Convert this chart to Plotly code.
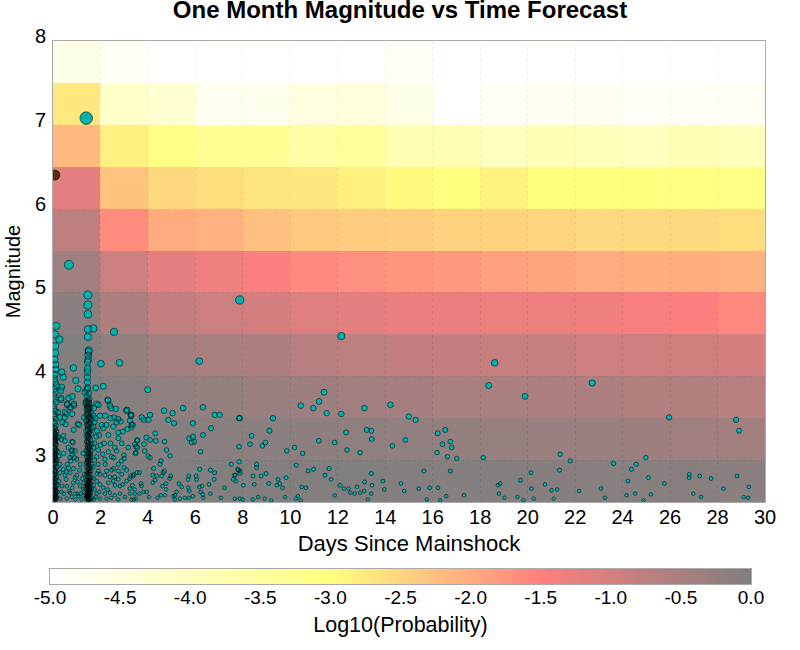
import plotly.graph_objects as go

title_text = "One Month Magnitude vs Time Forecast"
day_bins = [1, 3, 5, 7, 9, 11, 13, 15, 17, 19, 21, 23, 25, 27, 29]
mag_bins = [2.75, 3.25, 3.75, 4.25, 4.75, 5.25, 5.75, 6.25, 6.75, 7.25, 7.75]
row_275 = [0, 0, -.02, -.03, -.04, -.05, -.06, -.07, -.08, -.08, -.09, -.1, -.1, -.12, -.14]
row_325 = [0, -.03, -.08, -.12, -.15, -.17, -.2, -.22, -.25, -.27, -.3, -.32, -.35, -.37, -.4]
row_375 = [-.02, -.1, -.2, -.25, -.3, -.35, -.4, -.45, -.5, -.5, -.55, -.55, -.6, -.6, -.65]
row_425 = [-.05, -.25, -.4, -.5, -.55, -.65, -.7, -.8, -.8, -.85, -.85, -.9, -.92, -.95, -1.0]
row_475 = [-.15, -.55, -.8, -.9, -1.0, -1.1, -1.17, -1.25, -1.25, -1.3, -1.3, -1.35, -1.42, -1.45, -1.6]
row_525 = [-.37, -.9, -1.2, -1.35, -1.45, -1.6, -1.7, -1.75, -1.8, -1.9, -1.95, -2.0, -2.05, -2.05, -2.1]
row_575 = [-.73, -1.65, -2.0, -2.1, -2.25, -2.35, -2.4, -2.42, -2.47, -2.47, -2.5, -2.55, -2.55, -2.55, -2.6]
row_625 = [-1.2, -2.3, -2.53, -2.6, -2.7, -2.73, -2.83, -2.95, -3.0, -2.85, -3.0, -3.0, -3.0, -3.05, -3.1]
row_675 = [-2.17, -2.83, -3.1, -3.35, -3.35, -3.6, -3.45, -3.8, -3.8, -4.0, -3.85, -3.95, -4.0, -3.85, -3.9]
row_725 = [-2.73, -4.14, -4.3, -4.76, -4.72, -4.5, -4.45, -4.6, -5.0, -4.85, -4.8, -4.75, -4.9, -4.9, -4.85]
row_775 = [-4.6, -4.85, -5, -4.95, -4.95, -5, -5, -4.9, -5, -5, -4.95, -5, -5, -5, -5]
z_rows = [row_275, row_325, row_375, row_425, row_475, row_525, row_575, row_625, row_675, row_725, row_775]

colorbar_values = [-5.0, -4.5, -4.0, -3.5, -3.0, -2.5, -2.0, -1.5, -1.0, -0.5, 0.0]
colorbar_labels = ["-5.0", "-4.5", "-4.0", "-3.5", "-3.0", "-2.5", "-2.0", "-1.5", "-1.0", "-0.5", "0.0"]

mainshock_day = [0.08]
mainshock_mag = [6.4]

upper_events = [(1.4,7.08),(.67,5.33),(1.47,4.97),(1.47,4.85),(1.47,4.74),(1.47,4.56),(1.7,4.57),(1.47,4.47),(2.57,4.53),
 (7.87,4.91),(12.15,4.48),(18.61,4.16),(18.36,3.89),(11.42,3.81),(11.21,3.7),(10.44,3.65),(10.97,3.62),(11.53,3.56),(12.15,3.55),
 (13.12,3.62),(14.22,3.66),(14.99,3.52),(15.28,3.48),(7.87,3.5),(9.27,3.5),(9.12,3.35),(8.37,3.29),(19.89,3.76),(22.72,3.92),
 (25.96,3.51),(28.78,3.48),(28.91,3.35),(2.02,4.15),(2.8,4.16),(6.16,4.18),(.86,4.10),(.96,3.95),(1.05,3.85),(.37,4.05),(.43,3.99),
 (.37,3.87),(.34,3.74),(.33,3.83),(2.12,3.88),(1.8,3.86),(1.35,3.81),(3.99,3.84),(2.3,3.72),(.81,3.76),(.66,3.74),(.6,3.66),(.88,3.65),
 (.72,3.63),(1.38,3.68),(1.91,3.66),(2.4,3.65),(2.44,3.62),(2.65,3.61),(3.12,3.6),(3.27,3.54),(3.74,3.51),(3.83,3.48),(4.02,3.48),(4.09,3.54),
 (4.68,3.59),(4.86,3.48),(5.04,3.56),(5.1,3.44),(5.48,3.62),(5.89,3.44),(6.32,3.63),(6.66,3.38),(6.81,3.54),(7.02,3.54),(7.84,3.5)]

column_zero = [(.13,4.6),(.08,4.5),(.27,4.44),(.1,4.36),(.1,4.28),(.08,4.2),(.11,4.14),(.12,4.08),(.08,4.02),(.06,3.97),(.1,3.93),(.14,3.89),
 (.05,3.85),(.1,3.81),(.04,3.77),(.08,3.73),(.12,3.69),(.03,3.65),(.06,3.61),(.1,3.58),(.04,3.55),(.07,3.52),(.12,3.49),(.03,3.46),(.08,3.44),
 (.12,3.41),(.05,3.39),(.09,3.37),(.03,3.35),(.14,3.34),(.07,3.32),(.11,3.3),(.04,3.29),(.08,3.27),(.13,3.26),(.06,3.24),(.1,3.23),(.03,3.21),
 (.07,3.2),(.12,3.18),(.05,3.16),(.09,3.14),(.14,3.12),(.04,3.1),(.08,3.09),(.11,3.07),(.06,3.05),(.1,3.04),(.03,3.02),(.13,3.01),(.07,2.99),
 (.11,2.97),(.05,2.95),(.09,2.93),(.14,2.91),(.04,2.9),(.08,2.88),(.12,2.86),(.06,2.84),(.1,2.83),(.03,2.81),(.13,2.79),(.07,2.78),(.11,2.76),
 (.05,2.74),(.09,2.73),(.15,2.71),(.04,2.7),(.08,2.68),(.12,2.67),(.06,2.65),(.1,2.64),(.03,2.63),(.14,2.62),(.07,2.6),(.11,2.59),(.05,2.58),
 (.09,2.57),(.13,2.56),(.04,2.55),(.08,2.54),(.12,2.53),(.06,2.52),(.1,2.51),(.16,2.55),(.18,2.62),(.2,2.7),(.17,2.8),(.19,2.92),(.16,3.0),(.2,3.1),
 (.06,3.33),(.1,3.31),(.05,3.28),(.09,3.25),(.07,3.22),(.11,3.19),(.06,3.13),(.09,3.11),(.05,3.08),(.1,3.06),(.07,3.03),(.12,3.0),(.05,2.96),(.09,2.87),
 (.06,2.82),(.1,2.77),(.07,2.72),(.05,2.69),(.09,2.66),(.12,2.61),(.06,2.59),(.1,2.56),(.07,2.53),(.13,2.64),(.15,2.57),(.04,2.75)]

column_one = [(1.5,4.31),(1.5,4.29),(1.48,4.25),(1.48,4.2),(1.46,4.17),(1.46,4.09),(1.45,4.05),(1.45,3.99),(1.45,3.93),(1.46,3.86),(1.42,3.84),
 (1.5,3.8),(1.44,3.76),(1.52,3.73),(1.4,3.7),(1.46,3.69),(1.52,3.67),(1.44,3.65),(1.56,3.63),(1.42,3.61),(1.5,3.59),(1.46,3.57),(1.6,3.56),
 (1.42,3.54),(1.52,3.52),(1.46,3.5),(1.6,3.49),(1.4,3.47),(1.5,3.45),(1.56,3.44),(1.44,3.42),(1.52,3.4),(1.62,3.38),(1.46,3.37),(1.4,3.35),
 (1.54,3.34),(1.48,3.32),(1.6,3.31),(1.42,3.29),(1.52,3.27),(1.46,3.26),(1.58,3.24),(1.42,3.22),(1.5,3.21),(1.64,3.19),(1.44,3.17),(1.54,3.16),
 (1.48,3.14),(1.6,3.12),(1.4,3.11),(1.52,3.09),(1.46,3.07),(1.58,3.05),(1.42,3.04),(1.5,3.02),(1.56,3.0),(1.44,2.99),(1.52,2.97),(1.62,2.95),
 (1.46,2.94),(1.4,2.92),(1.54,2.9),(1.48,2.89),(1.6,2.87),(1.42,2.86),(1.5,2.84),(1.56,2.83),(1.44,2.81),(1.52,2.8),(1.64,2.79),(1.46,2.77),
 (1.4,2.76),(1.54,2.75),(1.48,2.74),(1.6,2.72),(1.42,2.71),(1.5,2.7),(1.56,2.69),(1.44,2.68),(1.52,2.67),(1.62,2.66),(1.46,2.65),(1.4,2.64),
 (1.54,2.63),(1.48,2.62),(1.6,2.61),(1.42,2.6),(1.5,2.59),(1.56,2.58),(1.44,2.57),(1.52,2.56),(1.64,2.55),(1.46,2.54),(1.4,2.53),(1.54,2.52),
 (1.48,2.51),(1.6,2.53),(1.42,2.56),(1.5,2.62),(1.56,2.66),(1.44,2.72),(1.52,2.76),(1.44,2.61),(1.52,2.54),(1.58,2.6),(1.38,2.58),(1.36,2.66),
 (1.48,3.71),(1.5,3.68),(1.47,3.64),(1.5,3.62),(1.46,3.6),(1.49,3.55),(1.53,3.51),(1.47,3.48),(1.5,3.43),(1.46,3.41),(1.49,3.36),(1.52,3.33),
 (1.47,3.3),(1.5,3.28),(1.46,3.23),(1.49,3.2),(1.52,3.18),(1.47,3.15),(1.5,3.13),(1.46,3.1),(1.49,3.08),(1.53,3.06),(1.47,3.03),(1.5,3.0),
 (1.46,2.98),(1.49,2.96),(1.52,2.93),(1.47,2.91),(1.5,2.88),(1.46,2.85),(1.49,2.82),(1.53,2.78),(1.47,2.75),(1.5,2.73),(1.46,2.71),(1.49,2.69),
 (1.52,2.68),(1.47,2.67),(1.5,2.65),(1.46,2.63),(1.49,2.61),(1.53,2.6),(1.47,2.59),(1.5,2.57),(1.46,2.56),(1.49,2.55),(1.52,2.53),(1.47,2.52),
 (1.41,2.55),(1.55,2.57),(1.58,2.64),(1.41,2.69),(1.55,2.73),(1.58,2.78),(1.41,2.83),(1.55,2.86),(1.58,2.92),(1.41,2.97),(1.55,3.03),(1.58,3.08)]

inner_events = [(.34,3.72),(.6,3.67),(.74,3.63),(.88,3.67),(.21,3.57),(.5,3.57),(.57,3.55),(.81,3.55),(.29,3.51),(.5,3.51),(.4,3.45),(.53,3.43),
 (.87,3.36),(1.04,3.43),(1.84,3.67),(2.32,3.71),(1.7,3.53),(1.98,3.53),(2.19,3.53),(2.43,3.5),(2.57,3.51),(2.75,3.49),(2.85,3.46),(3.08,3.59),
 (3.29,3.54),(3.24,3.47),(3.31,3.42),(3.13,3.37),(2.94,3.34),(2.75,3.33),(2.54,3.4),(2.68,3.45),(2.12,3.38),(1.95,3.3),(2.33,3.3),(2.75,3.26),
 (3.55,3.24),(3.45,3.19),(3.55,3.15),(3.17,3.15),(2.99,3.06),(2.68,3.11),(2.33,3.1),(2.09,3.07),(2.47,3.04),(2.19,3.01),(2.75,2.95),(2.89,2.99),
 (3.5,3.09),(.43,3.29),(.22,3.27),(.5,3.23),(.83,3.21),(.35,3.25),(.81,3.12),(.93,3.11),(.72,3.03),(1.0,3.01),(.8,3.06),(1.28,3.08),(.65,2.91),
 (.86,2.9),(.43,2.89),(.72,2.85),(.29,2.85),(.5,2.82),(.93,2.79),(1.23,2.78),(1.32,2.83),(1.03,2.74),(.81,2.67),(.58,2.69),(.38,2.69),(1.14,2.69),
 (1.28,2.65),(.72,2.61),(.93,2.6),(.46,2.6),(1.07,2.57),(.79,2.56),(1.28,2.58),(.58,2.54),(.3,2.54),(1.91,2.87),(2.26,2.87),(2.47,2.88),(1.98,2.83),
 (2.19,2.82),(2.4,2.8),(2.75,2.87),(2.99,2.91),(3.1,2.88),(3.24,2.78),(3.38,2.81),(3.64,2.85),(2.75,2.77),(2.54,2.75),(2.33,2.73),(1.98,2.71),(2.12,2.67),
 (1.84,2.75),(2.61,2.7),(2.82,2.69),(2.94,2.71),(3.24,2.66),(3.45,2.6),(1.95,2.62),(2.19,2.6),(2.4,2.61),(2.61,2.58),(2.82,2.6),(3.03,2.56),(3.24,2.6),
 (1.98,2.54),(2.26,2.54),(2.75,2.53),(3.4,2.53),(1.1,3.42),(1.31,3.51),(.81,3.22),(.78,3.11),(.75,2.99),(.9,3.03),(.6,2.95),(1.75,3.45),(1.85,3.35),
 (1.75,3.2),(1.9,3.12),(1.75,3.0),(1.9,2.95),(1.72,2.78),(1.75,2.65),(1.8,2.56),(2.05,3.42),(2.25,3.42),(2.42,3.2),(2.6,3.15),(2.55,3.03),(2.9,3.2),
 (3.0,3.02),(3.1,2.75),(2.55,2.9),(.25,3.05),(.3,2.95),(.25,2.75),(.55,2.77),(1.12,2.88),(1.05,2.6),(1.2,2.53),(.95,2.53),(1.15,2.95),(3.35,2.7),
 (1.72,3.62),(1.78,3.5),(1.7,3.4),(1.82,3.28),(1.7,3.15),(1.84,3.04),(1.7,2.92),(1.85,2.84),(1.7,2.7),(1.84,2.6),(1.72,2.53),(2.0,3.18),(2.15,3.2),
 (2.2,2.95),(2.3,2.65),(2.45,2.55),(2.6,2.8),(2.9,2.83),(.65,3.15),(.45,3.08),(.55,2.86),(.35,2.62),(.67,2.63),(.85,2.73),(1.0,2.82),(1.18,2.6),(1.3,2.73)]

sparse_events = [(3.3,3.53),(3.3,3.39),(3.36,3.42),(4.31,3.32),(3.93,3.27),(4.09,3.24),(4.33,3.23),(3.55,3.23),(4.7,3.22),(6.32,3.3),(5.9,3.28),(5.73,3.26),
 (5.84,3.21),(5.95,3.22),(3.83,3.19),(3.5,3.16),(3.86,3.11),(3.47,3.08),(4.78,3.12),(4.93,3.05),(6.22,3.1),(7.84,3.16),(4.0,3.05),(4.09,3.03),(4.55,2.99),
 (4.51,2.95),(7.51,2.95),(7.84,2.98),(4.24,2.9),(4.69,2.87),(4.65,2.85),(4.58,2.81),(6.18,2.89),(6.63,2.88),(6.81,2.85),(7.81,2.88),(7.67,2.82),(7.6,2.77),
 (3.54,2.85),(3.41,2.83),(3.27,2.81),(4.2,2.82),(4.37,2.81),(4.3,2.76),(4.2,2.73),(4.96,2.81),(4.92,2.78),(5.72,2.81),(5.69,2.77),(6.03,2.81),(6.05,2.77),
 (6.79,2.77),(5.31,2.72),(5.42,2.68),(6.57,2.71),(6.28,2.69),(6.17,2.68),(3.71,2.72),(3.73,2.69),(4.61,2.69),(4.76,2.72),(4.76,2.65),(5.7,2.67),(5.74,2.63),
 (3.44,2.65),(7.22,2.67),(5.21,2.62),(5.14,2.58),(5.07,2.57),(6.22,2.62),(6.31,2.59),(6.63,2.6),(7.08,2.55),(3.65,2.6),(3.81,2.62),(3.95,2.62),(4.05,2.56),
 (4.4,2.55),(4.54,2.58),(4.72,2.58),(5.35,2.54),(5.56,2.55),(5.74,2.55),(5.89,2.57),(6.33,2.55),(3.5,2.54),(3.3,2.53),(5.14,2.53),(7.67,2.54),
 (8.3,3.19),(8.82,3.17),(8.95,3.21),(9.85,3.11),(10.18,3.15),(10.52,3.08),(11.2,3.23),(11.87,3.21),(12.39,3.12),(12.94,3.09),(13.43,3.25),(8.58,2.95),(8.58,2.91),
 (10.25,2.94),(7.78,2.89),(7.88,2.87),(7.88,2.84),(7.65,2.82),(7.71,2.75),(8.02,2.7),(8.43,2.81),(8.77,2.81),(8.98,2.84),(8.48,2.71),(9.09,2.72),(9.48,2.77),
 (9.82,2.79),(9.55,2.72),(9.43,2.7),(9.67,2.67),(10.75,2.87),(10.98,2.89),(11.63,2.9),(11.46,2.82),(11.72,2.77),(13.41,2.84),(13.13,2.74),(12.09,2.7),(12.26,2.66),
 (12.45,2.66),(12.81,2.68),(13.44,2.7),(10.48,2.68),(10.66,2.67),(12.53,2.61),(12.71,2.6),(12.94,2.61),(13.11,2.63),(13.41,2.6),(11.87,2.58),(9.78,2.56),(10.32,2.57),
 (10.23,2.54),(10.44,2.52),(8.64,2.56),(7.87,2.54),(8.0,2.53),(8.42,2.53),(8.92,2.54),(9.19,2.52),(13.27,2.53),(12.35,3.33),(13.22,3.36),(13.41,3.35),(14.3,3.17),
 (14.85,3.24),(16.21,3.32),(16.53,3.36),(16.41,3.19),(16.74,3.22),(16.8,3.15),(16.18,3.09),(16.62,3.04),(17.01,3.02),(18.13,3.03),(15.63,2.87),(16.74,2.87),(14.66,2.72),
 (13.9,2.75),(13.96,2.65),(14.8,2.63),(15.41,2.66),(15.87,2.67),(16.22,2.67),(16.57,2.57),(17.32,2.58),(18.75,2.7),(18.84,2.72),(18.79,2.6),(19.02,2.55),(15.75,2.53),(16.31,2.52),
 (19.57,2.56),(19.69,2.76),(19.82,2.52),(20.14,2.85),(20.16,2.66),(21.37,3.07),(21.79,2.99),(24.98,3.03),(23.62,2.96),(24.57,2.95),(24.37,2.89),(21.34,2.88),(24.22,2.75),
 (25.09,2.79),(26.81,2.83),(26.8,2.79),(27.25,2.81),(27.73,2.78),(28.82,2.81),(20.73,2.71),(25.76,2.72),(28.25,2.66),(29.32,2.68),(21.01,2.64),(21.24,2.65),(22.17,2.63),
 (23.09,2.66),(20.26,2.54),(21.1,2.54),(23.26,2.55),(24.17,2.58),(24.53,2.6),(25.19,2.59),(26.98,2.6),(27.31,2.56),(29.1,2.56),(29.29,2.55),(24.88,2.52)]

events = upper_events + column_zero + column_one + inner_events + sparse_events
event_days = [e[0] for e in events]
event_mags = [e[1] for e in events]
event_sizes = [3.4 + 2 * (m - 2.5) for m in event_mags]

FONT = "Liberation Sans"
colorscale = [
    [0.0, "rgba(255,255,255,0.5)"],
    [0.4, "rgba(255,255,0,0.5)"],
    [0.7, "rgba(255,0,0,0.5)"],
    [1.0, "rgba(0,0,0,0.5)"],
]

fig = go.Figure()
fig.add_trace(go.Heatmap(
    x=day_bins, y=mag_bins, z=z_rows, zmin=-5, zmax=0, colorscale=colorscale, hoverinfo="skip", showscale=False,
))
# fills first, then the rings on top, so that dense clusters build up dark outlines
fig.add_trace(go.Scatter(
    x=event_days, y=event_mags, mode="markers", hoverinfo="skip",
    marker=dict(color="rgb(0,178,178)", size=event_sizes, opacity=1, line=dict(width=0)),
))
fig.add_trace(go.Scatter(
    x=event_days, y=event_mags, mode="markers", hoverinfo="skip",
    marker=dict(symbol="circle-open", color="rgba(0,0,0,0.55)", size=event_sizes, opacity=1, line=dict(width=1)),
))
fig.add_trace(go.Scatter(
    x=mainshock_day, y=mainshock_mag, mode="markers", hoverinfo="skip",
    marker=dict(color="rgb(90,45,10)", size=10, opacity=1, line=dict(color="rgba(0,0,0,0.55)", width=1)),
))
# colour key: a one-row heatmap on its own axes
fig.add_trace(go.Heatmap(
    x=colorbar_values, y=[0, 1], z=[colorbar_values, colorbar_values], zmin=-5, zmax=0, zsmooth="best",
    colorscale=colorscale, hoverinfo="skip", showscale=False, xaxis="x2", yaxis="y2",
))
fig.update_layout(
    width=800, height=650, autosize=False, showlegend=False, paper_bgcolor="white", plot_bgcolor="white",
    margin=dict(l=50, r=35, t=41, b=66, autoexpand=False),
    title=dict(text=f"<b>{title_text}</b>", x=0.5, xanchor="center", y=1 - 10 / 650, yanchor="middle",
               font=dict(family=FONT, size=24, color="black")),
    xaxis=dict(domain=[3 / 715, 1], range=[0, 30], tickmode="linear", tick0=0, dtick=2, showline=True, mirror=True, linecolor="#aaaaaa", linewidth=1,
               gridcolor="#e6e6e6", griddash="3px,3px", gridwidth=1, zeroline=False, ticks="", ticklabelstandoff=-3,
               tickfont=dict(family=FONT, size=20, color="black"),
               title=dict(text="Days Since Mainshock", font=dict(family=FONT, size=22, color="black"), standoff=8)),
    yaxis=dict(domain=[82 / 543, 1], range=[2.5, 8], tickmode="linear", tick0=3, dtick=1, showline=True, mirror=True, linecolor="#aaaaaa", linewidth=1,
               gridcolor="#efefef", griddash="3px,3px", gridwidth=1, zeroline=False, ticks="", ticklabelshift=-5, ticklabelstandoff=2,
               tickfont=dict(family=FONT, size=20, color="black"),
               title=dict(text="Magnitude", font=dict(family=FONT, size=20, color="black"), standoff=8)),
    xaxis2=dict(domain=[0, 701 / 715], anchor="y2", range=[-5, 0], tickmode="array", tickvals=colorbar_values, ticktext=colorbar_labels,
                showgrid=False, zeroline=False, showline=True, mirror=True, linecolor="#aaaaaa", linewidth=1, ticks="", ticklabelstandoff=-4,
                tickfont=dict(family=FONT, size=19, color="black"),
                title=dict(text="Log10(Probability)", font=dict(family=FONT, size=21.5, color="black"), standoff=10)),
    yaxis2=dict(domain=[0, 15 / 543], anchor="x2", range=[0, 1], showticklabels=False, showgrid=False, zeroline=False, ticks="",
                showline=True, mirror=True, linecolor="#aaaaaa", linewidth=1),
)
fig.write_html("out.html", config={"displayModeBar": False}, post_script="document.body.style.margin='0';")
